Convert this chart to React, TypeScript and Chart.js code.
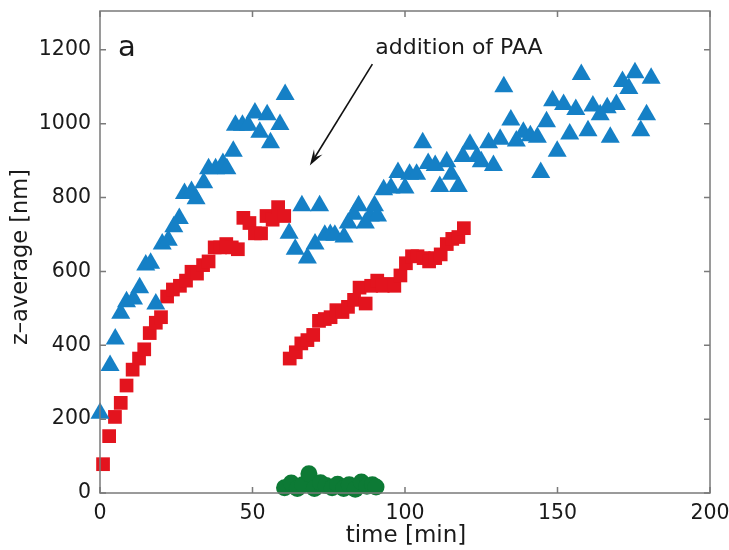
import React, { useEffect, useRef } from "react";
import { Chart, registerables } from "chart.js";

Chart.register(...registerables);

// Blue triangles (time [min], z-average [nm])
const blueX = [0, 3.3, 5, 6.8, 8.7, 11, 13, 15, 16.6, 18.3, 20.4, 22.4, 24.2, 26, 27.7, 30, 31.5, 34, 35.6, 37.9, 40.3, 41.6, 43.7, 44.4, 46.7, 48.6, 50.8, 52.4, 54.8, 55.9, 59, 60.7,
  62, 64, 66.2, 68, 70.5, 72, 73.7, 75.5, 77, 80, 81.4, 83.3, 84.8, 87, 88.6, 90, 91, 93, 95.4, 97.7, 100, 101.5, 103.8, 105.8, 107.6, 109.9, 111.4, 113.7, 115.2, 117.5, 119, 121.3, 123.6, 125, 127.4, 129, 131.2, 132.4, 134.7, 136.5, 138.8, 141.1, 143.4, 144.5, 146.4, 148.4, 149.9, 152, 154, 156, 157.8, 160, 161.6, 164, 166.3, 167.3, 169.3, 171.3, 173.4, 175.4, 177.3, 179.2, 180.7];
const blueY = [216, 345, 417, 487, 518, 525, 556, 617, 622, 512, 674, 684, 721, 743, 811, 816, 797, 840, 878, 878, 892, 878, 925, 996, 996, 996, 1029, 977, 1024, 948, 998, 1079,
  703, 660, 778, 636, 674, 778, 698, 700, 698, 693, 731, 755, 778, 731, 750, 778, 750, 821, 826, 868, 826, 863, 863, 948, 892, 887, 830, 897, 863, 830, 911, 944, 911, 897, 948, 887, 958, 1100, 1010, 953, 977, 967, 963, 868, 1005, 1062, 925, 1052, 972, 1038, 1133, 981, 1048, 1024, 1043, 963, 1052, 1114, 1095, 1138, 981, 1024, 1123];

// Red squares
const redX = [1, 3, 4.9, 6.8, 8.7, 10.7, 12.8, 14.5, 16.3, 18.3, 20, 22, 23.9, 26.2, 28.2, 30, 31.8, 33.8, 35.6, 37.6, 39.4, 41.4, 43.2, 45.2, 47, 49, 50.8, 52.8, 54.6, 56.6, 58.4, 60.4,
  62.2, 64.2, 66, 68, 69.9, 71.8, 73.7, 75.6, 77.5, 79.5, 81.3, 83.3, 85.1, 87.1, 88.9, 90.9, 92.7, 94.7, 96.5, 98.5, 100.3, 102.3, 104.1, 106.1, 107.9, 109.9, 111.7, 113.7, 115.5, 117.5, 119.3];
const redY = [78, 154, 206, 244, 291, 334, 364, 389, 433, 461, 476, 532, 551, 561, 575, 599, 594, 617, 627, 665, 665, 674, 665, 660, 745, 731, 703, 703, 750, 740, 774, 750,
  364, 381, 405, 414, 428, 466, 471, 476, 495, 490, 504, 523, 556, 513, 561, 575, 561, 566, 561, 589, 622, 641, 641, 636, 627, 636, 646, 674, 688, 693, 717];

// Green circles
const greenX = [60.5, 62.7, 64.7, 66.5, 68.5, 70.3, 72.3, 74.1, 76.1, 77.9, 79.9, 81.7, 83.7, 85.7, 87.5, 89.3, 90.5];
const greenY = [14, 27, 12, 22, 52, 12, 28, 20, 14, 24, 12, 22, 10, 30, 18, 22, 16];

const xTicks = [0, 50, 100, 150, 200];
const yTicks = [0, 200, 400, 600, 800, 1000, 1200];

const panelLabel = "a";
const annotationText = "addition of PAA";
const annotationTextPos = { x: 90.9, y: 1204 };
const arrowTail = { x: 89.3, y: 1161 };
const arrowHead = { x: 68.8, y: 887 };
const xTitle = "time [min]";
const yTitle = "z\u2013average [nm]";

const FONT = "'DejaVu Sans', sans-serif";

const pts = (xs: number[], ys: number[]) => xs.map((x, i) => ({ x, y: ys[i] }));

const framePlugin = {
  id: "framePlugin",
  afterDraw(chart: any) {
    const ctx = chart.ctx as CanvasRenderingContext2D;
    const { left, right, top, bottom } = chart.chartArea;
    const xs = chart.scales.x;
    const ys = chart.scales.y;
    ctx.save();
    // frame
    ctx.strokeStyle = "#7a7a7a";
    ctx.lineWidth = 1.5;
    ctx.strokeRect(left, top, right - left, bottom - top);
    // inward ticks
    const tl = 6;
    ctx.beginPath();
    xTicks.forEach((v) => {
      const px = xs.getPixelForValue(v);
      ctx.moveTo(px, bottom);
      ctx.lineTo(px, bottom - tl);
      ctx.moveTo(px, top);
      ctx.lineTo(px, top + tl);
    });
    yTicks.forEach((v) => {
      const py = ys.getPixelForValue(v);
      ctx.moveTo(left, py);
      ctx.lineTo(left + tl, py);
      ctx.moveTo(right, py);
      ctx.lineTo(right - tl, py);
    });
    ctx.stroke();

    // panel label
    ctx.fillStyle = "#1a1a1a";
    ctx.font = `29px ${FONT}`;
    ctx.textAlign = "center";
    ctx.textBaseline = "alphabetic";
    ctx.fillText(panelLabel, left + 27, top + 45);

    // annotation
    ctx.textAlign = "left";
    ctx.textBaseline = "middle";
    ctx.font = `22px ${FONT}`;
    ctx.fillText(annotationText, xs.getPixelForValue(annotationTextPos.x) - 2, ys.getPixelForValue(annotationTextPos.y));

    // arrow
    const x1 = xs.getPixelForValue(arrowTail.x);
    const y1 = ys.getPixelForValue(arrowTail.y);
    const x2 = xs.getPixelForValue(arrowHead.x);
    const y2 = ys.getPixelForValue(arrowHead.y);
    const ang = Math.atan2(y2 - y1, x2 - x1);
    const hl = 16;
    const hw = 5;
    ctx.strokeStyle = "#111";
    ctx.lineWidth = 1.6;
    ctx.beginPath();
    ctx.moveTo(x1, y1);
    ctx.lineTo(x2 - Math.cos(ang) * hl * 0.6, y2 - Math.sin(ang) * hl * 0.6);
    ctx.stroke();
    ctx.fillStyle = "#111";
    ctx.beginPath();
    ctx.moveTo(x2, y2);
    ctx.lineTo(x2 - Math.cos(ang) * hl + Math.sin(ang) * hw, y2 - Math.sin(ang) * hl - Math.cos(ang) * hw);
    ctx.lineTo(x2 - Math.cos(ang) * hl * 0.6, y2 - Math.sin(ang) * hl * 0.6);
    ctx.lineTo(x2 - Math.cos(ang) * hl - Math.sin(ang) * hw, y2 - Math.sin(ang) * hl + Math.cos(ang) * hw);
    ctx.closePath();
    ctx.fill();

    // axis titles
    ctx.fillStyle = "#1a1a1a";
    ctx.font = `23px ${FONT}`;
    ctx.textAlign = "center";
    ctx.textBaseline = "middle";
    ctx.fillText(xTitle, 406, 536);
    ctx.save();
    ctx.translate(21, 257);
    ctx.rotate(-Math.PI / 2);
    ctx.font = `22.5px ${FONT}`;
    ctx.fillText(yTitle, 0, 0);
    ctx.restore();
    ctx.restore();
  },
};

export default function App() {
  const ref = useRef<HTMLCanvasElement>(null);
  useEffect(() => {
    document.body.style.margin = "0";
    const canvas = ref.current!;
    const chart = new Chart(canvas, {
      type: "scatter",
      data: {
        datasets: [
          {
            label: "green",
            data: pts(greenX, greenY),
            pointStyle: "circle",
            pointRadius: 8.5,
            backgroundColor: "#0d7a35",
            borderColor: "#0d7a35",
            borderWidth: 0,
            clip: false,
          },
          {
            label: "blue",
            data: pts(blueX, blueY),
            pointStyle: "triangle",
            pointRadius: 11,
            backgroundColor: "#1580c6",
            borderColor: "#1580c6",
            borderWidth: 0,
            clip: false,
          },
          {
            label: "red",
            data: pts(redX, redY),
            pointStyle: "rect",
            pointRadius: 9.7,
            backgroundColor: "#e3141e",
            borderColor: "#e3141e",
            borderWidth: 0,
            clip: false,
          },
        ],
      },
      options: {
        animation: false,
        responsive: false,
        devicePixelRatio: 1,
        layout: { padding: { left: 0, right: 19, top: 10, bottom: 0 } },
        plugins: { legend: { display: false }, tooltip: { enabled: false } },
        scales: {
          x: {
            type: "linear",
            min: 0,
            max: 200,
            grid: { display: false, drawTicks: false },
            border: { display: false },
            ticks: {
              stepSize: 50,
              padding: 8,
              color: "#1a1a1a",
              font: { family: FONT, size: 20.5 },
              maxRotation: 0,
              callback: (v: any) => String(v),
            },
            afterFit: (s: any) => {
              s.height = 57;
              s.paddingLeft = 0;
              s.paddingRight = 0;
            },
          },
          y: {
            type: "linear",
            min: 0,
            max: 1305,
            grid: { display: false, drawTicks: false },
            border: { display: false },
            ticks: {
              stepSize: 200,
              includeBounds: false,
              padding: 9,
              color: "#1a1a1a",
              font: { family: FONT, size: 20.5 },
              callback: (v: any) => String(v),
            },
            afterFit: (s: any) => {
              s.width = 100;
              s.paddingTop = 0;
              s.paddingBottom = 0;
            },
          },
        },
      },
      plugins: [framePlugin],
    });
    return () => chart.destroy();
  }, []);
  return (
    <div style={{ width: 729, height: 550, background: "#fff" }}>
      <canvas ref={ref} width={729} height={550} />
    </div>
  );
}
